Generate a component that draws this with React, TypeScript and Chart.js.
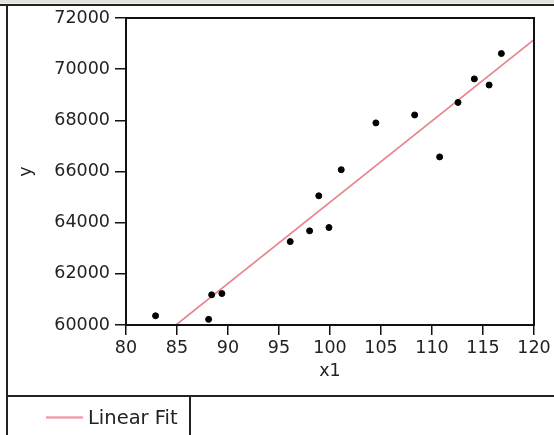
import { useEffect, useRef } from "react";
import { Chart, registerables } from "chart.js";

Chart.register(...registerables);

const x1Values = [82.9, 88.1, 88.4, 89.4, 96.1, 98.0, 99.9, 98.9, 101.1, 104.5, 108.3, 110.75, 112.55, 114.15, 115.6, 116.8];
const yValues = [60360, 60220, 61180, 61230, 63260, 63680, 63810, 65050, 66070, 67900, 68210, 66570, 68700, 69620, 69380, 70610];
const fitX = [84.9, 120];
const fitY = [60000, 71150];
const xTickValues = [80, 85, 90, 95, 100, 105, 110, 115, 120];
const yTickValues = [60000, 62000, 64000, 66000, 68000, 70000, 72000];
const xTitle = "x1";
const yTitle = "y";
const fitLabel = "Linear Fit";

const FONT = "'DejaVu Sans', sans-serif";

const framePlugin = {
  id: "frame",
  afterDraw(chart: any) {
    const { ctx, chartArea: a } = chart;
    const W = chart.width;
    const H = chart.height;
    ctx.save();
    // plot rectangle
    ctx.strokeStyle = "#111";
    ctx.lineWidth = 2;
    ctx.strokeRect(a.left, a.top, a.right - a.left, a.bottom - a.top);
    // top band
    ctx.fillStyle = "#e2e2da";
    ctx.fillRect(0, 0, W, 3.5);
    ctx.strokeStyle = "#222";
    ctx.lineWidth = 2;
    ctx.beginPath();
    ctx.moveTo(0, 5);
    ctx.lineTo(W, 5);
    ctx.stroke();
    ctx.beginPath();
    ctx.moveTo(7, 4);
    ctx.lineTo(7, H);
    ctx.moveTo(6, 396);
    ctx.lineTo(W, 396);
    ctx.moveTo(190, 396);
    ctx.lineTo(190, H);
    ctx.stroke();
    // legend
    const ds = chart.data.datasets[1];
    ctx.strokeStyle = "#f0a0ac";
    ctx.lineWidth = 2.5;
    ctx.beginPath();
    ctx.moveTo(46, 417.5);
    ctx.lineTo(83, 417.5);
    ctx.stroke();
    ctx.fillStyle = "#222";
    ctx.font = `19.5px ${FONT}`;
    ctx.textBaseline = "alphabetic";
    ctx.textAlign = "left";
    ctx.fillText(ds.label, 88, 424);
    ctx.restore();
  },
};

export default function App() {
  const ref = useRef<HTMLCanvasElement | null>(null);

  useEffect(() => {
    if (!ref.current) return;
    const chart = new Chart(ref.current, {
      type: "scatter",
      data: {
        datasets: [
          {
            label: "y",
            data: x1Values.map((x, i) => ({ x, y: yValues[i] })),
            backgroundColor: "#000",
            borderColor: "#000",
            pointRadius: 3,
            pointHoverRadius: 3,
            showLine: false,
          },
          {
            label: fitLabel,
            type: "line",
            data: fitX.map((x, i) => ({ x, y: fitY[i] })),
            borderColor: "#e8848e",
            borderWidth: 1.6,
            pointRadius: 0,
            fill: false,
          } as any,
        ],
      },
      options: {
        animation: false,
        responsive: false,
        devicePixelRatio: 1,
        layout: { padding: { top: 18, right: 20, left: 0, bottom: 39 } },
        plugins: { legend: { display: false }, tooltip: { enabled: false } },
        scales: {
          x: {
            type: "linear",
            min: 80,
            max: 120,
            afterFit: (s: any) => {
              s.height = 71;
            },
            afterBuildTicks: (s: any) => {
              s.ticks = xTickValues.map((v) => ({ value: v }));
            },
            ticks: {
              autoSkip: false,
              maxRotation: 0,
              padding: 2.5,
              color: "#222",
              font: { family: FONT, size: 17.5 },
              callback: (v: any) => String(v),
            },
            grid: {
              drawOnChartArea: false,
              drawTicks: true,
              tickLength: 10,
              color: "#111",
              lineWidth: 1.5,
            },
            border: { display: true, color: "#111", width: 2 },
            title: {
              display: true,
              text: xTitle,
              color: "#222",
              font: { family: FONT, size: 17.5 },
              padding: { top: 0, bottom: 14.5 },
            },
          },
          y: {
            type: "linear",
            min: 60000,
            max: 72000,
            afterFit: (s: any) => {
              s.width = 126;
            },
            afterBuildTicks: (s: any) => {
              s.ticks = yTickValues.map((v) => ({ value: v }));
            },
            ticks: {
              autoSkip: false,
              padding: 5,
              color: "#222",
              font: { family: FONT, size: 17.5 },
              callback: (v: any) => String(v),
            },
            grid: {
              drawOnChartArea: false,
              drawTicks: true,
              tickLength: 11,
              color: "#111",
              lineWidth: 1.5,
            },
            border: { display: true, color: "#111", width: 2 },
            title: {
              display: true,
              text: yTitle,
              color: "#222",
              font: { family: FONT, size: 17.5 },
              padding: { top: 16, bottom: 0 },
            },
          },
        },
      },
      plugins: [framePlugin],
    });
    return () => chart.destroy();
  }, []);

  return (
    <div style={{ position: "absolute", left: 0, top: 0, width: 554, height: 435, background: "#fff" }}>
      <canvas ref={ref} width={554} height={435} style={{ display: "block" }} />
    </div>
  );
}
